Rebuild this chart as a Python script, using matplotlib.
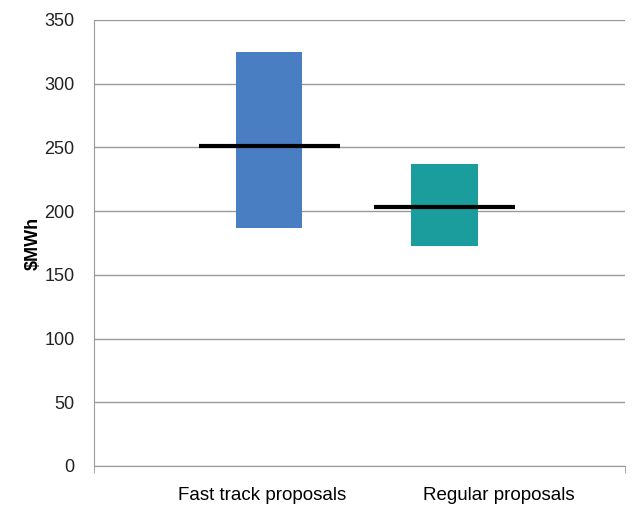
import matplotlib
matplotlib.use("Agg")
import matplotlib.pyplot as plt

plt.rcParams["font.family"] = ["Liberation Sans", "DejaVu Sans"]

# price ranges ($/MWh) for each proposal group
categories = ["Fast track proposals", "Regular proposals"]
range_low = [187, 173]
range_high = [325, 237]
midpoint = [251, 203]

bar_x = [0.66, 1.32]
label_x = [0.635, 1.525]
colors = ["#4a7ec3", "#1b9d9e"]

fig = plt.figure(figsize=(6.32, 5.08), dpi=100)
ax = fig.add_axes([0.1487, 0.0827, 0.840, 0.878])

for x, lo, hi, mid, c in zip(bar_x, range_low, range_high, midpoint, colors):
    ax.bar(x, hi - lo, bottom=lo, width=0.25, color=c, zorder=3)
    ax.hlines(mid, x - 0.265, x + 0.265, color="black", lw=3, zorder=4)

ax.set_xlim(0, 2)
ax.set_ylim(0, 350)
ax.set_yticks(range(0, 351, 50))
ax.set_xticks(label_x)
ax.set_xticklabels(categories, fontsize=13.5)
ax.set_xticks([0, 2], minor=True)
ax.tick_params(axis="x", which="major", length=0, pad=15)
ax.tick_params(axis="x", which="minor", length=5, color="#999999")
ax.tick_params(axis="y", length=0, labelsize=13, pad=14, labelcolor="#222222")

ax.grid(axis="y", color="#9a9a9a", lw=1, zorder=0)
for s in ["top", "right"]:
    ax.spines[s].set_visible(False)
ax.spines["left"].set_color("#9a9a9a")
ax.spines["bottom"].set_color("#9a9a9a")

ax.set_ylabel("$MWh", fontsize=13, fontweight="bold", labelpad=2)

fig.savefig("out.png", dpi=100)
